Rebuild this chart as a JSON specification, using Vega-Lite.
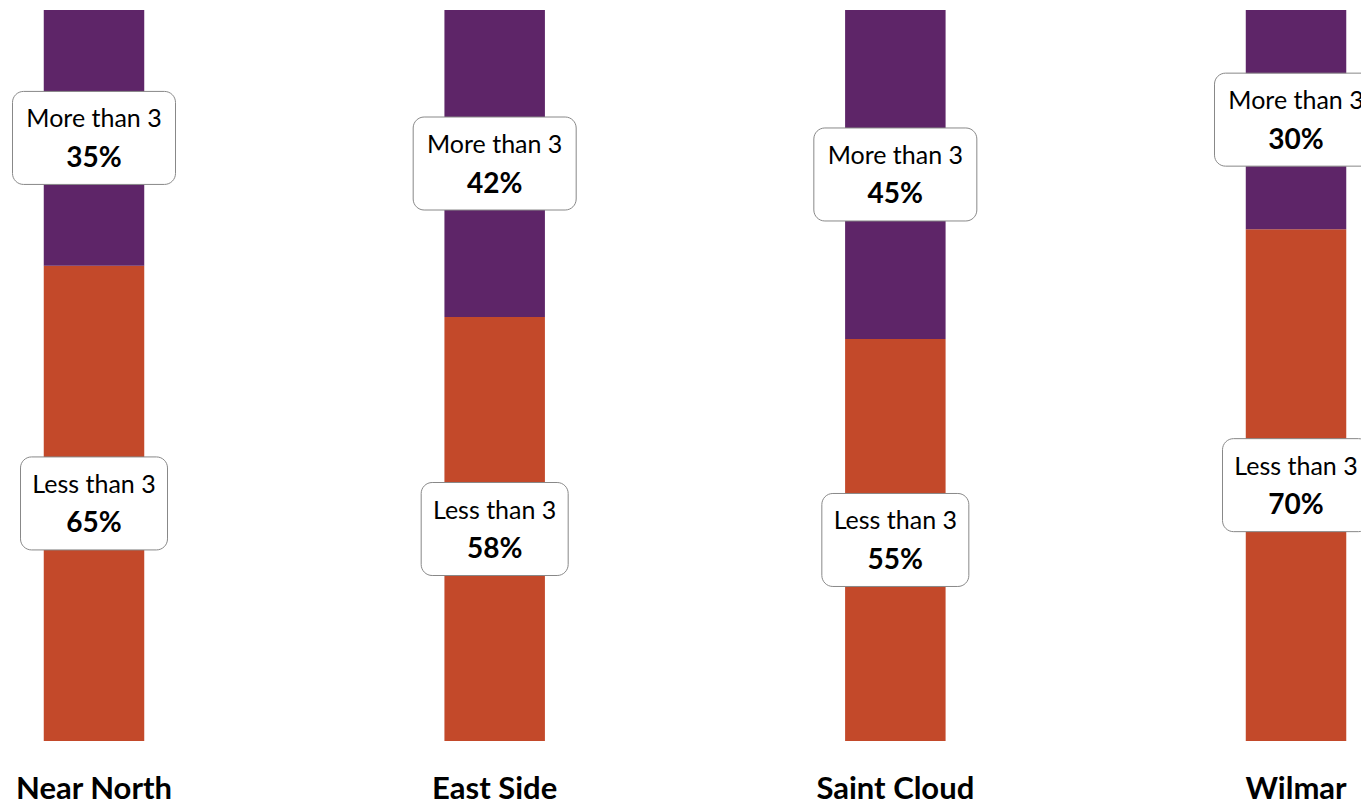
{
  "$schema": "https://vega.github.io/schema/vega-lite/v6.json",
  "autosize": {"type": "none"},
  "width": 1361,
  "height": 731,
  "padding": {"left": 0, "top": 10, "right": 0, "bottom": 64},
  "background": "white",
  "config": {"view": {"stroke": null}},
  "data": {
    "values": [
      {"region": "Near North", "category": "Less than 3", "value": 0.65},
      {"region": "Near North", "category": "More than 3", "value": 0.35},
      {"region": "East Side", "category": "Less than 3", "value": 0.58},
      {"region": "East Side", "category": "More than 3", "value": 0.42},
      {"region": "Saint Cloud", "category": "Less than 3", "value": 0.55},
      {"region": "Saint Cloud", "category": "More than 3", "value": 0.45},
      {"region": "Wilmar", "category": "Less than 3", "value": 0.70},
      {"region": "Wilmar", "category": "More than 3", "value": 0.30}
    ]
  },
  "transform": [
    {"stack": "value", "groupby": ["region"], "sort": [{"field": "category", "order": "ascending"}], "offset": "normalize", "as": ["v0", "v1"]},
    {"calculate": "(datum.v0 + datum.v1) / 2", "as": "mid"}
  ],
  "encoding": {
    "x": {
      "field": "region",
      "type": "nominal",
      "sort": ["Near North", "East Side", "Saint Cloud", "Wilmar"],
      "scale": {"paddingInner": 0.7492, "paddingOuter": 0.073, "align": 0.748},
      "axis": {
        "title": null,
        "domain": false,
        "ticks": false,
        "labelAngle": 0,
        "labelFont": "Lato",
        "labelFontSize": 31,
        "labelFontWeight": "bold",
        "labelColor": "black",
        "labelPadding": 33
      }
    }
  },
  "layer": [
    {
      "mark": {"type": "bar"},
      "encoding": {
        "y": {"field": "v0", "type": "quantitative", "scale": {"domain": [0, 1], "nice": false}, "axis": null},
        "y2": {"field": "v1"},
        "color": {
          "field": "category",
          "type": "nominal",
          "scale": {"domain": ["Less than 3", "More than 3"], "range": ["#C3492A", "#5E2568"]},
          "legend": null
        }
      }
    },
    {
      "mark": {"type": "point", "filled": true, "fill": "white", "stroke": "#888888", "strokeWidth": 1, "opacity": 1, "fillOpacity": 1, "strokeOpacity": 1},
      "encoding": {
        "y": {"field": "mid", "type": "quantitative"},
        "shape": {
          "field": "category",
          "type": "nominal",
          "scale": {
            "domain": ["Less than 3", "More than 3"],
            "range": [
              "M -0.85 -0.6327 L 0.85 -0.6327 A 0.15 0.15 0 0 1 1 -0.4827 L 1 0.4827 A 0.15 0.15 0 0 1 0.85 0.6327 L -0.85 0.6327 A 0.15 0.15 0 0 1 -1 0.4827 L -1 -0.4827 A 0.15 0.15 0 0 1 -0.85 -0.6327 Z",
              "M -0.865 -0.5706 L 0.865 -0.5706 A 0.135 0.135 0 0 1 1 -0.4356 L 1 0.4356 A 0.135 0.135 0 0 1 0.865 0.5706 L -0.865 0.5706 A 0.135 0.135 0 0 1 -1 0.4356 L -1 -0.4356 A 0.135 0.135 0 0 1 -0.865 -0.5706 Z"
            ]
          },
          "legend": null
        },
        "size": {
          "field": "category",
          "type": "nominal",
          "scale": {"domain": ["Less than 3", "More than 3"], "range": [21609, 26569]},
          "legend": null
        }
      }
    },
    {
      "mark": {"type": "text", "font": "Lato", "fontSize": 25, "color": "black", "baseline": "alphabetic", "align": "center", "dy": -10.5},
      "encoding": {
        "y": {"field": "mid", "type": "quantitative"},
        "text": {"field": "category", "type": "nominal"}
      }
    },
    {
      "mark": {"type": "text", "font": "Lato", "fontSize": 28, "fontWeight": "bold", "color": "black", "baseline": "alphabetic", "align": "center", "dy": 29},
      "encoding": {
        "y": {"field": "mid", "type": "quantitative"},
        "text": {"field": "value", "type": "quantitative", "format": ".0%"}
      }
    }
  ]
}
